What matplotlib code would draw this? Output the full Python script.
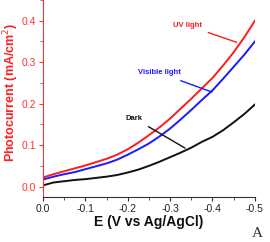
import matplotlib
matplotlib.use("Agg")
import matplotlib.pyplot as plt
from matplotlib.ticker import MultipleLocator

plt.rcParams['font.family'] = ['Liberation Sans', 'DejaVu Sans']

# potential (V vs Ag/AgCl)
E = [0.0, -0.025, -0.05, -0.075, -0.1, -0.125, -0.15, -0.175, -0.2, -0.225, -0.25,
     -0.275, -0.3, -0.325, -0.35, -0.375, -0.4, -0.425, -0.45, -0.475, -0.5]
uv = [0.022, 0.030, 0.037, 0.044, 0.051, 0.059, 0.067, 0.077, 0.090, 0.106, 0.124,
      0.143, 0.164, 0.188, 0.212, 0.237, 0.262, 0.292, 0.324, 0.360, 0.400]
visible = [0.017, 0.024, 0.030, 0.035, 0.042, 0.049, 0.056, 0.065, 0.077, 0.090, 0.104,
           0.121, 0.140, 0.162, 0.185, 0.209, 0.232, 0.260, 0.289, 0.318, 0.350]
dark = [0.003, 0.010, 0.013, 0.016, 0.018, 0.021, 0.024, 0.028, 0.034, 0.041, 0.050,
        0.060, 0.071, 0.082, 0.094, 0.108, 0.120, 0.136, 0.155, 0.175, 0.198]

fig = plt.figure(figsize=(2.7, 2.42), dpi=100)
ax = fig.add_axes([0.159, 0.186, 0.785, 0.814])

ax.plot(E, uv, color='#ff1a1a', lw=1.4)
ax.plot(E, visible, color='#1a1aff', lw=1.4)
ax.plot(E, dark, color='#111111', lw=1.4)

ax.set_xlim(0, -0.5)
ax.set_ylim(-0.025, 0.45)
ax.xaxis.set_minor_locator(MultipleLocator(0.05))
ax.yaxis.set_minor_locator(MultipleLocator(0.05))
ax.set_yticks([0.0, 0.1, 0.2, 0.3, 0.4])
ax.set_xticks([0.0, -0.1, -0.2, -0.3, -0.4, -0.5])
ax.set_xticklabels(['0.0', '-0.1', '-0.2', '-0.3', '-0.4', '-0.5'])

for s in ['top', 'right']:
    ax.spines[s].set_visible(False)
ax.spines['left'].set_color('#ff3333')
ax.spines['bottom'].set_color('#333333')
ax.tick_params(axis='y', which='both', colors='#ff3333', labelsize=7.5, length=3, pad=2)
ax.tick_params(axis='y', which='minor', length=2)
ax.tick_params(axis='x', which='both', colors='#333333', labelsize=7.5, length=3, pad=2)
ax.tick_params(axis='x', which='minor', length=2)
ax.tick_params(axis='x', labelcolor='#222222')

ax.set_ylabel('Photocurrent (mA/cm$^2$)', color='#ff2020', fontsize=9, fontweight='bold')
ax.yaxis.set_label_coords(-0.105, 0.53)
ax.set_xlabel('E (V vs Ag/AgCl)', color='#111111', fontsize=10, fontweight='bold',
              labelpad=1)

ax.annotate('UV light', xy=(-0.457, 0.348), xytext=(-0.34, 0.389), color='#ff1a1a',
            fontsize=5.5, fontweight='bold', ha='center', va='center',
            arrowprops=dict(arrowstyle='-', color='#ff1a1a', lw=1.0, shrinkA=3, shrinkB=0))
ax.annotate('Visible light', xy=(-0.399, 0.228), xytext=(-0.275, 0.274), color='#1a1aff',
            fontsize=5.5, fontweight='bold', ha='center', va='center',
            arrowprops=dict(arrowstyle='-', color='#1a1aff', lw=1.0, shrinkA=3, shrinkB=0))
ax.annotate('Dark', xy=(-0.335, 0.093), xytext=(-0.215, 0.165), color='#111111',
            fontsize=5.5, fontweight='bold', ha='center', va='center',
            arrowprops=dict(arrowstyle='-', color='#111111', lw=1.0, shrinkA=3, shrinkB=0))

fig.text(0.975, 0.01, 'A', fontsize=11, family='Liberation Serif', color='#333333',
         ha='right', va='bottom')

fig.savefig('out.png', dpi=100)
